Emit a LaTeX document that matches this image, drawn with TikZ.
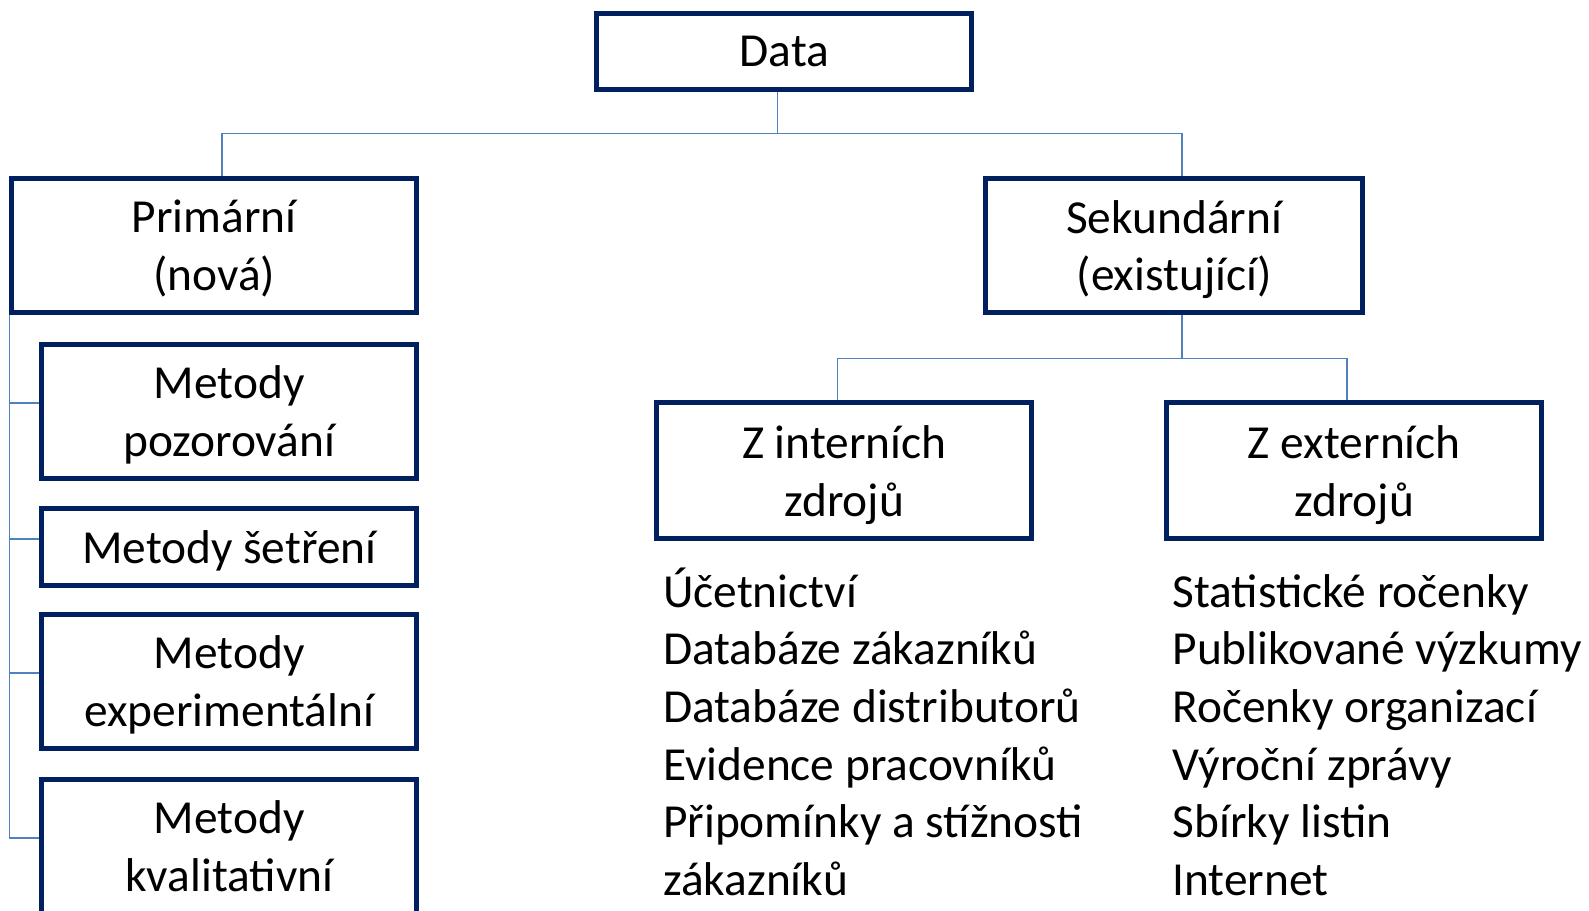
\documentclass[tikz,border=0pt]{standalone}
\usepackage{fontspec}
\setmainfont{Carlito}
\usetikzlibrary{positioning}

\definecolor{boxnavy}{RGB}{0,32,96}
\definecolor{linkblue}{RGB}{79,129,189}

\begin{document}
\begin{tikzpicture}[x=1pt, y=-1pt,
  every node/.style={inner sep=0pt, font=\fontsize{47.4pt}{57.7pt}\selectfont},
  databox/.style={draw=boxnavy, line width=5pt, align=center, text depth=0pt, minimum width=375pt, minimum height=134pt},
  conn/.style={draw=linkblue, line width=1.6pt},
  srclist/.style={anchor=base west, align=left}]
\useasboundingbox (0,0) rectangle (1589,910);
% top
\node[databox, minimum height=76pt] (data) at (784.4,51.5) {Data};
\node[databox, minimum width=404.5pt] (prim) at (214.2,245.5) {Primární\\(nová)};
\node[databox, minimum width=377pt] (sek) at (1174.2,245.5) {Sekundární\\(existující)};
% primary methods
\node[databox] (pozor) at (229.3,411) {Metody\\pozorování};
\node[databox, minimum height=77pt] (setr) at (229.3,546.7) {Metody šetření};
\node[databox] (exper) at (229.3,681) {Metody\\experimentální};
\node[databox] (kval) at (229.3,846) {Metody\\kvalitativní};
% secondary sources
\node[databox, minimum height=135.7pt] (intern) at (844.3,470.7) {Z interních\\zdrojů};
\node[databox, minimum height=135.7pt] (extern) at (1354.3,470.7) {Z externích\\zdrojů};
\node[srclist] (intlist) at (663,895.5) {Účetnictví\\Databáze zákazníků\\Databáze distributorů\\Evidence pracovníků\\Připomínky a stížnosti\\zákazníků};
\node[srclist] (extlist) at (1172.3,895.5) {Statistické ročenky\\Publikované výzkumy\\Ročenky organizací\\Výroční zprávy\\Sbírky listin\\Internet};
% connectors
\coordinate (djoin) at (777.3,133.3);
\coordinate (sjoin) at (1181.7,358.3);
\draw[conn] (data.south -| djoin) -- (djoin);
\draw[conn] ([xshift=7.5pt]prim.north) |- (djoin) -| ([xshift=7.5pt]sek.north);
\draw[conn] (sek.south -| sjoin) -- (sjoin);
\draw[conn] ([xshift=-7pt]intern.north) |- (sjoin) -| ([xshift=-7.3pt]extern.north);
\draw[conn] (prim.south west) |- ([yshift=8pt]kval.west);
\foreach \m in {pozor,setr,exper}
  \draw[conn] ([yshift=8pt]\m.west) -| (prim.south west);
\end{tikzpicture}
\end{document}
